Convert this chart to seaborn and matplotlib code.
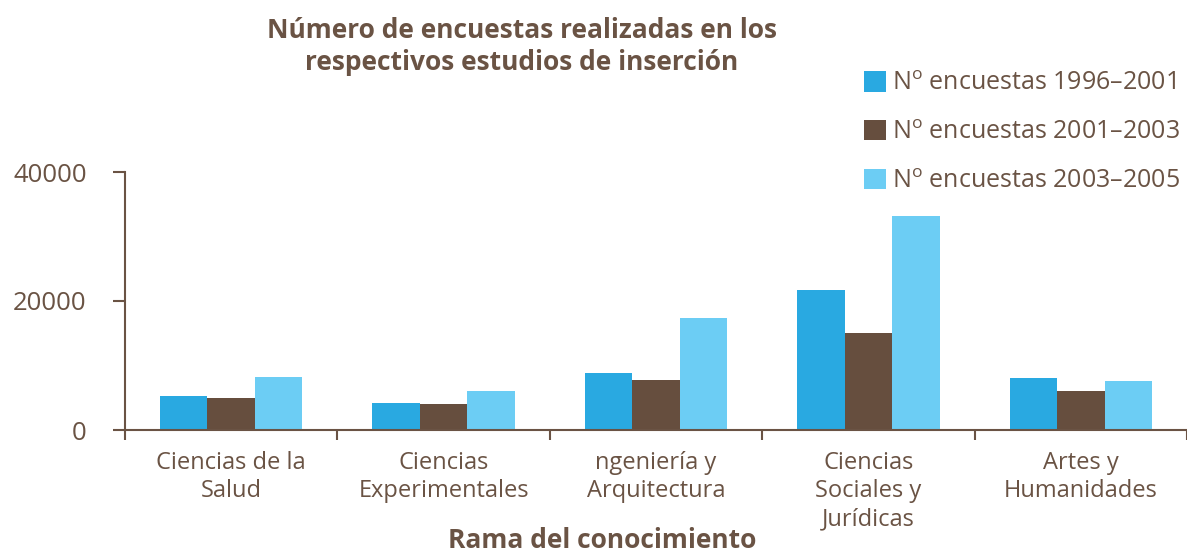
import pandas as pd
import matplotlib.pyplot as plt
import seaborn as sns

# data
ramas = ["Ciencias de la\nSalud", "Ciencias\nExperimentales", "ngeniería y\nArquitectura",
         "Ciencias\nSociales y\nJurídicas", "Artes y\nHumanidades"]
periodos = [r"N$^{\mathrm{o}}$ encuestas 1996–2001",
            r"N$^{\mathrm{o}}$ encuestas 2001–2003",
            r"N$^{\mathrm{o}}$ encuestas 2003–2005"]
enc_1996_2001 = [5300, 4200, 8800, 21700, 8100]
enc_2001_2003 = [5000, 4000, 7750, 15000, 6000]
enc_2003_2005 = [8200, 6000, 17400, 33200, 7600]
colores = ["#29a9e1", "#664e3e", "#6ccdf4"]
txt = "#6a5344"

rows = []
for p, vals in zip(periodos, [enc_1996_2001, enc_2001_2003, enc_2003_2005]):
    for r, v in zip(ramas, vals):
        rows.append({"rama": r, "periodo": p, "n": v})
df = pd.DataFrame(rows)

sns.set_style("white")
plt.rcParams['font.family'] = ['Open Sans', 'DejaVu Sans']
plt.rcParams['mathtext.fontset'] = 'custom'
plt.rcParams['mathtext.rm'] = 'Open Sans'

fig = plt.figure(figsize=(11.87, 5.53), dpi=100)
ax = fig.add_axes([125/1187, 1-430/553, 1-125/1187, (430-172)/553])

sns.barplot(data=df, x="rama", y="n", hue="periodo", palette=colores,
            width=0.67, saturation=1, linewidth=0, ax=ax, legend=True)

ax.set_xlim(-0.5, 4.5)
ax.set_ylim(0, 40000)
ax.set_yticks([0, 20000, 40000])
ax.set_yticklabels(["0", "20000", "40000"], fontsize=18.5, color=txt)
ax.tick_params(axis='y', length=8.6, width=1.5, color=txt, pad=19, left=True)
ax.set_xticks(range(5))
ax.set_xticklabels(ramas, fontsize=17, color=txt, linespacing=1.25)
ax.tick_params(axis='x', which='major', length=0, pad=15)
ax.set_xticks([i - 0.5 for i in range(6)], minor=True)
ax.tick_params(axis='x', which='minor', length=7.2, width=1.5, color=txt, bottom=True, direction='out')
ax.set_xlabel("")
ax.set_ylabel("")
for s in ['top', 'right']:
    ax.spines[s].set_visible(False)
for s in ['left', 'bottom']:
    ax.spines[s].set_color(txt)
    ax.spines[s].set_linewidth(1.5)

handles, labels = ax.get_legend_handles_labels()
ax.get_legend().remove()
fig.legend(handles, labels, loc='upper left', bbox_to_anchor=(864/1187, 1-71/553),
           frameon=False, fontsize=18, labelcolor=txt, handlelength=0.88, handleheight=0.88,
           handletextpad=0.25, labelspacing=0.95, borderpad=0, borderaxespad=0)

fig.text(522/1187, 1-30/553, "Número de encuestas realizadas en los", ha='center', va='center',
         fontsize=19, fontweight='bold', color=txt)
fig.text(522/1187, 1-62/553, "respectivos estudios de inserción", ha='center', va='center',
         fontsize=19, fontweight='bold', color=txt)
fig.text(602/1187, 1-540/553, "Rama del conocimiento", ha='center', va='center',
         fontsize=19, fontweight='bold', color=txt)

fig.savefig("out.png", dpi=100)
